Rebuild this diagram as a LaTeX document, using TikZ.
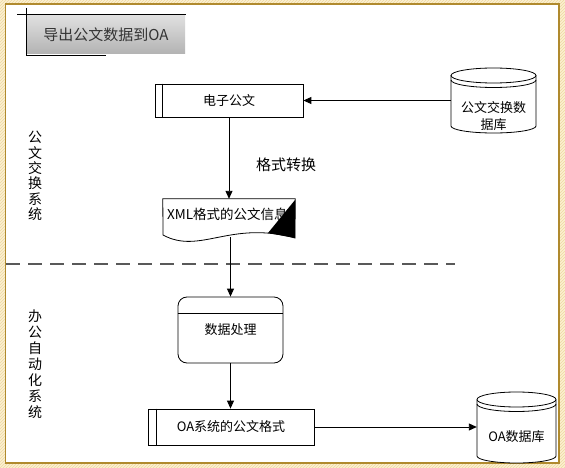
\documentclass[tikz,border=0pt]{standalone}
\usepackage{fontspec}
\newfontfamily\cjk{Noto Sans CJK SC}
\usetikzlibrary{arrows.meta,patterns}
\definecolor{framegold}{HTML}{B08A2E}
\definecolor{hatchbg}{HTML}{FBF0D2}
\definecolor{hatchfg}{HTML}{EFD8A0}
\begin{document}
\begin{tikzpicture}[x=1pt,y=-1pt,font=\cjk\fontsize{13}{15}\selectfont,
  box/.style={draw, line width=0.8pt, inner sep=0pt},
  arr/.style={-{Triangle[length=8pt,width=7pt]}, line width=0.9pt},
  lbl/.style={align=center, inner sep=0pt}]
\useasboundingbox (0,0) rectangle (565,468);
% frame
\fill[hatchbg] (0,0) rectangle (565,468);
\fill[pattern=north east lines, pattern color=hatchfg] (0,0) rectangle (565,468);
\filldraw[fill=white, draw=framegold, line width=1.5pt] (5.5,4) rectangle (559,463);
% title
\node[top color=gray!25, bottom color=gray!60, minimum width=158pt, minimum height=38pt, inner sep=0pt, text=black!80, font=\cjk\fontsize{15}{17}\selectfont] (title) at (106,35) {导出公文数据到OA};
\draw[line width=0.9pt] (17,14) -- (186,14);
\draw[line width=0.9pt] (26,8) -- (26,55) -- (106,55);
% swimlanes
\node[lbl, font=\cjk\fontsize{14}{15.3}\selectfont] (gwjh) at (35,176) {公\\文\\交\\换\\系\\统};
\node[lbl, font=\cjk\fontsize{14}{16}\selectfont] (bgzdh) at (35,364) {办\\公\\自\\动\\化\\系\\统};
\draw[gray!70!black, line width=1.6pt, dash pattern=on 14pt off 8pt] (6,264) -- (455,264);
% upper lane
\node[box, minimum width=148pt, minimum height=33pt] (dzgw) at (229,100.5) {电子公文};
\draw[line width=0.8pt] ([xshift=8pt]dzgw.north west) -- ([xshift=8pt]dzgw.south west);
\draw[line width=0.8pt, fill=white] (451,75.5) -- (451,126) arc[start angle=180, end angle=0, x radius=42.5, y radius=7] -- (536,75.5);
\draw[line width=0.8pt] (493.5,75.5) ellipse[x radius=42.5, y radius=7.5];
\draw[line width=0.8pt] (451,80) arc[start angle=180, end angle=0, x radius=42.5, y radius=7.5];
\node[lbl, minimum width=85pt, font=\cjk\fontsize{13}{17}\selectfont] (gwdb) at (493.5,116.5) {公文交换数\\据库};
\draw[arr] (gwdb.west |- dzgw.east) -- (dzgw.east);
\node[font=\cjk\fontsize{15}{17}\selectfont] (gszh) at (286,165) {格式转换};
\node[minimum width=132pt, minimum height=38pt, inner sep=0pt] (xmldoc) at (229,218) {};
\node[anchor=west, inner sep=0pt, font=\cjk\fontsize{13.5}{16}\selectfont] (xmltxt) at (167,214) {XML格式的公文信息};
\draw[line width=0.8pt] (xmldoc.north west) -- (xmldoc.north east) -- (295,238) .. controls (230,220) and (200,255) .. (163,235) -- cycle;
\fill (295,200) -- (268,233) -- (295,238) -- cycle;
\draw[arr] (dzgw) -- (xmldoc);
% lower lane
\node[box, rounded corners=9pt, minimum width=105pt, minimum height=66pt] (sjcl) at (230.5,330) {数据处理};
\draw[line width=0.8pt] ([yshift=-17pt]sjcl.north west) -- ([yshift=-17pt]sjcl.north east);
\draw[arr] (xmldoc.south -| sjcl.north) -- (sjcl.north);
\node[box, minimum width=166pt, minimum height=36pt] (oags) at (231,427) {OA系统的公文格式};
\draw[line width=0.8pt] ([xshift=9pt]oags.north west) -- ([xshift=9pt]oags.south west);
\draw[arr] (sjcl.south) -- (sjcl.south |- oags.north);
\draw[line width=0.8pt, fill=white] (477,399.5) -- (477,456) arc[start angle=180, end angle=0, x radius=39.5, y radius=7] -- (556,399.5);
\draw[line width=0.8pt] (516.5,399.5) ellipse[x radius=39.5, y radius=7.5];
\draw[line width=0.8pt] (477,404) arc[start angle=180, end angle=0, x radius=39.5, y radius=7.5];
\node[lbl, minimum width=79pt] (oadb) at (516.5,437) {OA数据库};
\draw[arr] (oags.east) -- (oags.east -| oadb.west);
\end{tikzpicture}
\end{document}
